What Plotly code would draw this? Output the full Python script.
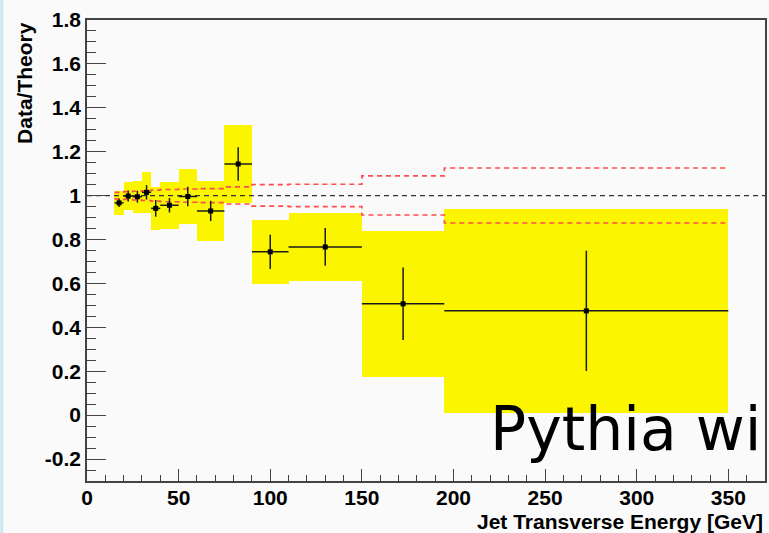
import plotly.graph_objects as go

# Jet transverse energy bins [GeV]
bin_lo = [15, 20, 25, 30, 35, 40, 50, 60, 75, 90, 110, 150, 195]
bin_hi = [20, 25, 30, 35, 40, 50, 60, 75, 90, 110, 150, 195, 350]

# Data/theory ratio with statistical and systematic uncertainties
ratio = [0.967, 0.998, 0.995, 1.015, 0.942, 0.956, 0.996, 0.930, 1.144, 0.744, 0.766, 0.507, 0.475]
stat_err = [0.019, 0.025, 0.027, 0.033, 0.038, 0.033, 0.044, 0.046, 0.076, 0.078, 0.086, 0.165, 0.274]
sys_err = [0.053, 0.065, 0.073, 0.092, 0.099, 0.106, 0.127, 0.138, 0.178, 0.147, 0.155, 0.333, 0.466]

# Theory uncertainty band (upper / lower edge per bin)
theory_hi = [1.015, 1.018, 1.020, 1.022, 1.025, 1.028, 1.030, 1.032, 1.040, 1.050, 1.052, 1.090, 1.126]
theory_lo = [0.985, 0.982, 0.980, 0.978, 0.975, 0.972, 0.970, 0.968, 0.962, 0.952, 0.950, 0.912, 0.875]

x_range = [0, 370]
y_range = [-0.3, 1.8]

centers = [(a + b) / 2 for a, b in zip(bin_lo, bin_hi)]
half_w = [(b - a) / 2 for a, b in zip(bin_lo, bin_hi)]
widths = [b - a for a, b in zip(bin_lo, bin_hi)]

fig = go.Figure()

# systematic uncertainty boxes
fig.add_trace(go.Bar(
    x=centers,
    y=[2 * s for s in sys_err],
    base=[r - s for r, s in zip(ratio, sys_err)],
    width=widths,
    marker=dict(color="#fbf500", line=dict(width=0)),
    showlegend=False,
    hoverinfo="skip",
))

# theory band as stepped dashed lines
edges = bin_lo + [bin_hi[-1]]
for band in (theory_hi, theory_lo):
    fig.add_trace(go.Scatter(
        x=edges,
        y=band + [band[-1]],
        mode="lines",
        line=dict(shape="hv", color="#ff4d4d", width=1.6, dash="5px,4px"),
        showlegend=False,
        hoverinfo="skip",
    ))

# unity reference line
fig.add_trace(go.Scatter(
    x=x_range,
    y=[1, 1],
    mode="lines",
    line=dict(color="#333333", width=1.3, dash="5px,4px"),
    showlegend=False,
    hoverinfo="skip",
))

# data points with statistical errors and bin widths
fig.add_trace(go.Scatter(
    x=centers,
    y=ratio,
    mode="markers",
    marker=dict(symbol="square", size=5, color="black"),
    error_x=dict(type="data", array=half_w, width=0, thickness=1.5, color="#1a1a1a"),
    error_y=dict(type="data", array=stat_err, width=0, thickness=1.5, color="#1a1a1a"),
    showlegend=False,
))

axis_font = dict(family="Liberation Sans", size=21, color="black")

fig.update_layout(
    width=769,
    height=533,
    margin=dict(l=87, r=2, t=20, b=52),
    paper_bgcolor="#fafafa",
    plot_bgcolor="#fafafa",
    bargap=0,
    xaxis=dict(
        range=x_range,
        tickmode="array",
        tickvals=[0, 50, 100, 150, 200, 250, 300, 350],
        ticktext=["<b>%d</b>" % v for v in [0, 50, 100, 150, 200, 250, 300, 350]],
        ticks="inside",
        ticklen=12,
        tickwidth=1,
        tickcolor="#444444",
        ticklabelstandoff=-3,
        minor=dict(dtick=10, ticks="inside", ticklen=6, tickcolor="#444444", tickwidth=1),
        showline=True,
        linecolor="#444444",
        linewidth=1.5,
        mirror=True,
        showgrid=False,
        zeroline=False,
        tickfont=axis_font,
    ),
    yaxis=dict(
        range=y_range,
        tickmode="array",
        tickvals=[-0.2, 0, 0.2, 0.4, 0.6, 0.8, 1, 1.2, 1.4, 1.6, 1.8],
        ticktext=["<b>%s</b>" % t for t in ["-0.2", "0", "0.2", "0.4", "0.6", "0.8", "1", "1.2", "1.4", "1.6", "1.8"]],
        ticks="inside",
        ticklen=19,
        tickwidth=1,
        tickcolor="#444444",
        minor=dict(dtick=0.05, tick0=0, ticks="inside", ticklen=9, tickcolor="#444444", tickwidth=1),
        showline=True,
        linecolor="#444444",
        linewidth=1.5,
        mirror=True,
        showgrid=False,
        zeroline=False,
        tickfont=axis_font,
    ),
    annotations=[
        dict(
            text="<b>Data/Theory</b>",
            textangle=-90,
            xref="paper", yref="paper",
            x=-0.093, y=1.0,
            xanchor="center", yanchor="top",
            showarrow=False,
            font=dict(family="Liberation Sans", size=21, color="black"),
        ),
        dict(
            text="<b>Jet Transverse Energy [GeV]</b>",
            xref="paper", yref="paper",
            x=1.0, y=-0.058,
            xanchor="right", yanchor="top",
            showarrow=False,
            font=dict(family="Liberation Sans", size=21, color="black"),
        ),
        dict(
            text="Pythia wi",
            xref="x", yref="y",
            x=219, y=-0.061,
            xanchor="left", yanchor="middle",
            showarrow=False,
            font=dict(family="DejaVu Sans", size=60, color="black"),
        ),
    ],
    shapes=[
        dict(type="rect", xref="paper", yref="paper",
             x0=-87 / 680, x1=-84 / 680, y0=-52 / 461, y1=1 + 20 / 461,
             fillcolor="#c9e8ef", line=dict(width=0), layer="below"),
    ],
)

fig.write_html("out.html")
